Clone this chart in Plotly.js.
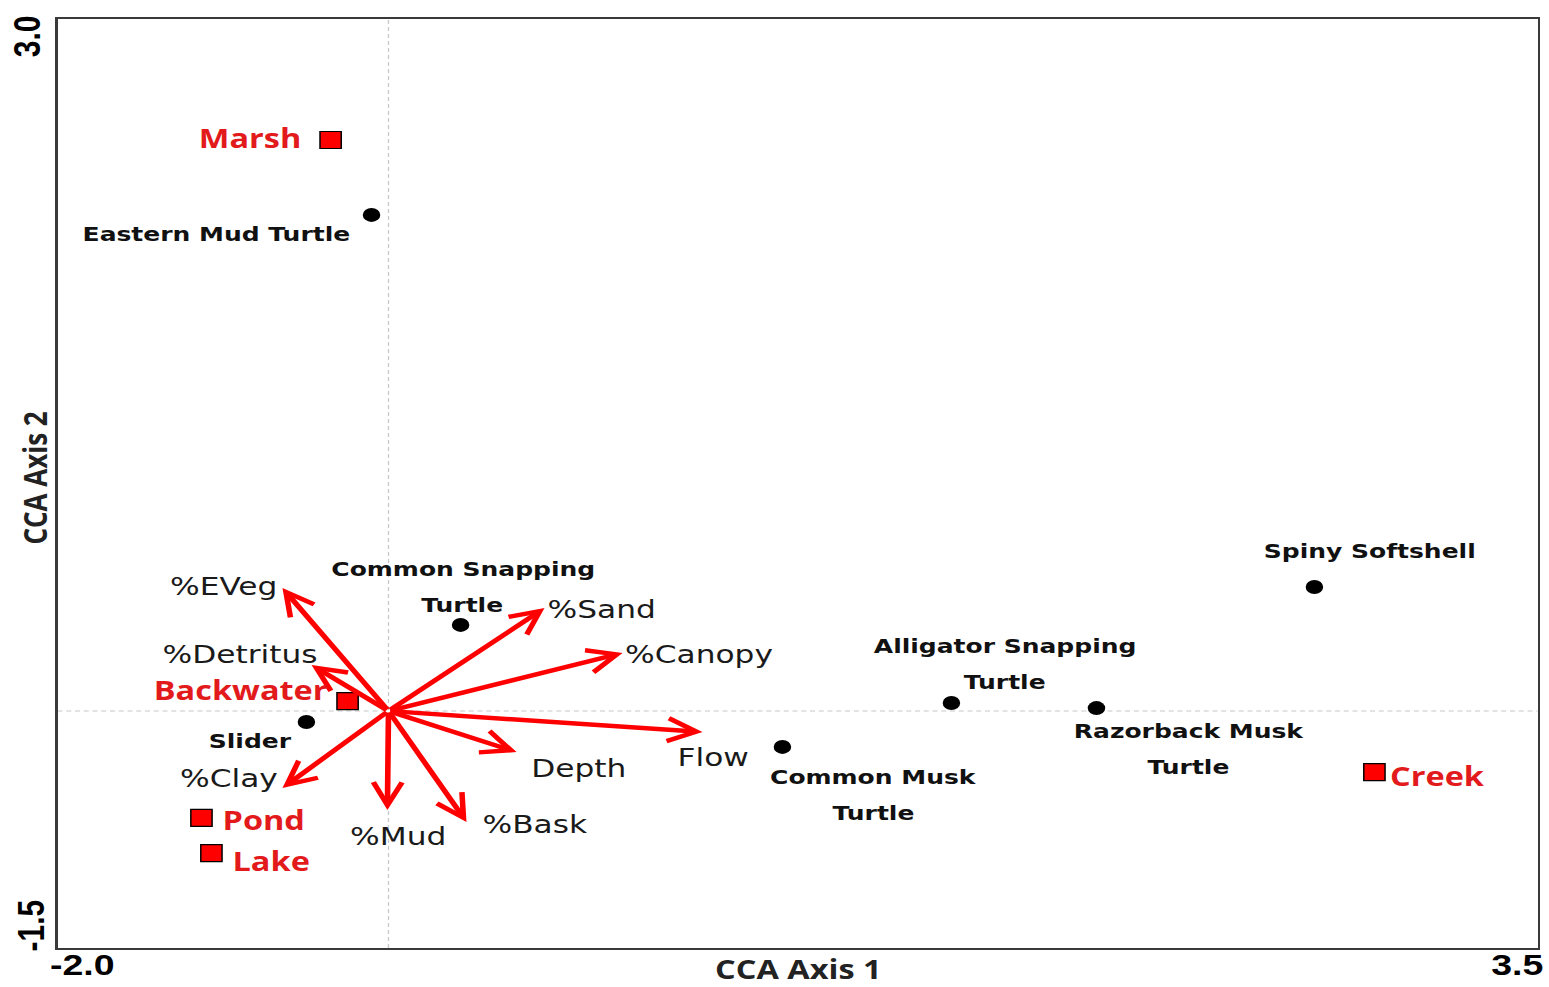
<!DOCTYPE html>
<html>
<head>
<meta charset="utf-8">
<script src="https://cdn.plot.ly/plotly-3.0.1.min.js"></script>
<style>
  html, body { margin: 0; padding: 0; background: #fff; overflow: hidden; }
  #wrap { width: 1549px; height: 987px; overflow: hidden; position: relative; }
  #plot { height: 987px; transform-origin: 0 0; }
</style>
</head>
<body>
<div id="wrap"><div id="plot"></div></div>
<script>
// ---------------- data ----------------
const envVars = ['%EVeg', '%Detritus', '%Clay', '%Mud', '%Bask', 'Depth', 'Flow', '%Canopy', '%Sand'];
const envX    = [-1.164, -1.056, -1.164, -0.774, -0.480, -0.294, 0.397, 0.100, -0.190];
const envY    = [ 0.244, -0.129, -0.725, -0.832, -0.890, -0.551, -0.454, -0.071, 0.147];
const centroidX = -0.770;
const centroidY = -0.352;

const species  = ['Eastern Mud Turtle', 'Common Snapping\nTurtle', 'Slider', 'Common Musk\nTurtle',
                  'Alligator Snapping\nTurtle', 'Razorback Musk\nTurtle', 'Spiny Softshell'];
const speciesX = [-0.833, -0.502, -1.075, 0.694, 1.322, 1.861, 2.671];
const speciesY = [ 2.051,  0.065, -0.405, -0.526, -0.313, -0.338, 0.249];

const sites = ['Marsh', 'Backwater', 'Pond', 'Lake', 'Creek'];
const siteX = [-0.985, -0.922, -1.465, -1.428, 2.894];
const siteY = [ 2.414, -0.304, -0.870, -1.040, -0.648];

const xTickVals = [-2.0, 3.5];
const xTickText = ['-2.0', '3.5'];
const yTickVals = [-1.5, 3.0];
const yTickText = ['-1.5', '3.0'];
const xTitle = 'CCA Axis 1';
const yTitle = 'CCA Axis 2';

// ---------------- label placement (pixels, relative to the mark) ----------------
const envLabelPos = [
  ['right', -3, -1], ['right', 8, -10], ['right', -2, -10], ['center', 11, 26], ['left', 14, 2],
  ['left', 12, 16], ['left', -27, 25], ['left', 0, 2], ['left', 0, 2]
];
const speciesLabelPos = [
  ['right', -19, 19], ['center', 2, -38], ['center', -56.5, 19], ['center', 91, 48],
  ['center', 53.5, -39], ['center', 92, 40.5], ['center', 55.5, -36]
];
const siteLabelPos = [
  ['right', -27, -2], ['right', -18, -11], ['left', 18, 2], ['left', 18, 8], ['left', 13, 4]
];

// ---------------- drawing ----------------
const S = 1.25;                  // horizontal stretch of the original figure
const W = 1549 / S;
document.getElementById('plot').style.width = W + 'px';
document.getElementById('plot').style.transform = 'scaleX(' + S + ')';

const LINE_GAP = 36;
const annotations = [];

function addLabel(text, x, y, pos, font) {
  const lines = text.split('\n');
  const n = lines.length;
  lines.forEach((ln, i) => {
    const dy = pos[2] + (i - (n - 1) / 2) * LINE_GAP;
    annotations.push({
      x: x, y: y, xref: 'x', yref: 'y', text: ln, showarrow: false,
      xanchor: pos[0], yanchor: 'middle', xshift: pos[1] / S, yshift: -dy,
      font: font
    });
  });
}

const envFont = { family: 'DejaVu Sans', size: 25, color: '#1a1a1a' };
const spFont = { family: 'DejaVu Sans', size: 20, color: '#111111', weight: 'bold' };
const siteFont = { family: 'Open Sans', size: 26, color: '#e31a1c', weight: 'bold' };

// arrows
envVars.forEach((v, i) => {
  annotations.push({
    x: envX[i], y: envY[i], xref: 'x', yref: 'y',
    ax: centroidX, ay: centroidY, axref: 'x', ayref: 'y',
    text: '', showarrow: true, arrowhead: 5, arrowsize: 1, arrowwidth: 4.5,
    arrowcolor: '#ff0000', standoff: 0, startstandoff: 0
  });
});
envVars.forEach((v, i) => addLabel(v, envX[i], envY[i], envLabelPos[i], envFont));
species.forEach((v, i) => addLabel(v, speciesX[i], speciesY[i], speciesLabelPos[i], spFont));
sites.forEach((v, i) => addLabel(v, siteX[i], siteY[i], siteLabelPos[i], siteFont));

// tick labels
const tickFont = { family: 'Liberation Sans', size: 30, color: '#000000', weight: 'bold' };
annotations.push({ x: xTickVals[0], xref: 'x', y: 0, yref: 'paper', text: xTickText[0], showarrow: false,
  xanchor: 'center', yanchor: 'middle', xshift: 24.5 / S, yshift: -16, font: tickFont });
annotations.push({ x: xTickVals[1], xref: 'x', y: 0, yref: 'paper', text: xTickText[1], showarrow: false,
  xanchor: 'center', yanchor: 'middle', xshift: -20 / S, yshift: -16, font: tickFont });
annotations.push({ x: 0, xref: 'paper', y: yTickVals[1], yref: 'y', text: yTickText[1], showarrow: false,
  textangle: -90, xanchor: 'center', yanchor: 'middle', xshift: -31 / S, yshift: -17, font: tickFont });
annotations.push({ x: 0, xref: 'paper', y: yTickVals[0], yref: 'y', text: yTickText[0], showarrow: false,
  textangle: -90, xanchor: 'center', yanchor: 'middle', xshift: -27 / S, yshift: 23, font: tickFont });

// axis titles
const titleFont = { family: 'Open Sans', size: 26, color: '#222222', weight: 'bold' };
annotations.push({ x: 0.5, xref: 'paper', y: 0, yref: 'paper', text: xTitle, showarrow: false,
  xanchor: 'center', yanchor: 'middle', yshift: -21, font: titleFont });
annotations.push({ x: 0, xref: 'paper', y: 0.506, yref: 'paper', text: yTitle, showarrow: false,
  textangle: -90, xanchor: 'center', yanchor: 'middle', xshift: -23 / S, font: titleFont });

const traces = [
  {
    type: 'scatter', mode: 'markers', x: speciesX, y: speciesY, hoverinfo: 'skip',
    marker: { symbol: 'circle', size: 14, color: '#000000' }
  },
  {
    type: 'scatter', mode: 'markers', x: siteX, y: siteY, hoverinfo: 'skip',
    marker: { symbol: 'square', size: 17, color: '#ff0000', line: { color: '#000000', width: 1.2 } }
  }
];

const layout = {
  width: W, height: 987,
  margin: { l: 46, r: 9, t: 19, b: 39 },
  paper_bgcolor: '#ffffff', plot_bgcolor: '#ffffff',
  showlegend: false,
  xaxis: {
    range: [xTickVals[0], xTickVals[1]], showgrid: false, zeroline: false, showticklabels: false,
    ticks: '', showline: true, mirror: true, linecolor: '#3a3a3a', linewidth: 2
  },
  yaxis: {
    range: [yTickVals[0], yTickVals[1]], showgrid: false, zeroline: false, showticklabels: false,
    ticks: '', showline: true, mirror: true, linecolor: '#3a3a3a', linewidth: 2
  },
  shapes: [
    { type: 'line', xref: 'x', yref: 'paper', x0: centroidX, x1: centroidX, y0: 0, y1: 1, layer: 'below',
      line: { color: '#c8c8c8', width: 1, dash: '4px,3px' } },
    { type: 'line', xref: 'paper', yref: 'y', x0: 0, x1: 1, y0: centroidY, y1: centroidY, layer: 'below',
      line: { color: '#c8c8c8', width: 1, dash: '4px,3px' } }
  ],
  annotations: annotations
};

Plotly.newPlot('plot', traces, layout, { staticPlot: true, displayModeBar: false });
</script>
</body>
</html>
